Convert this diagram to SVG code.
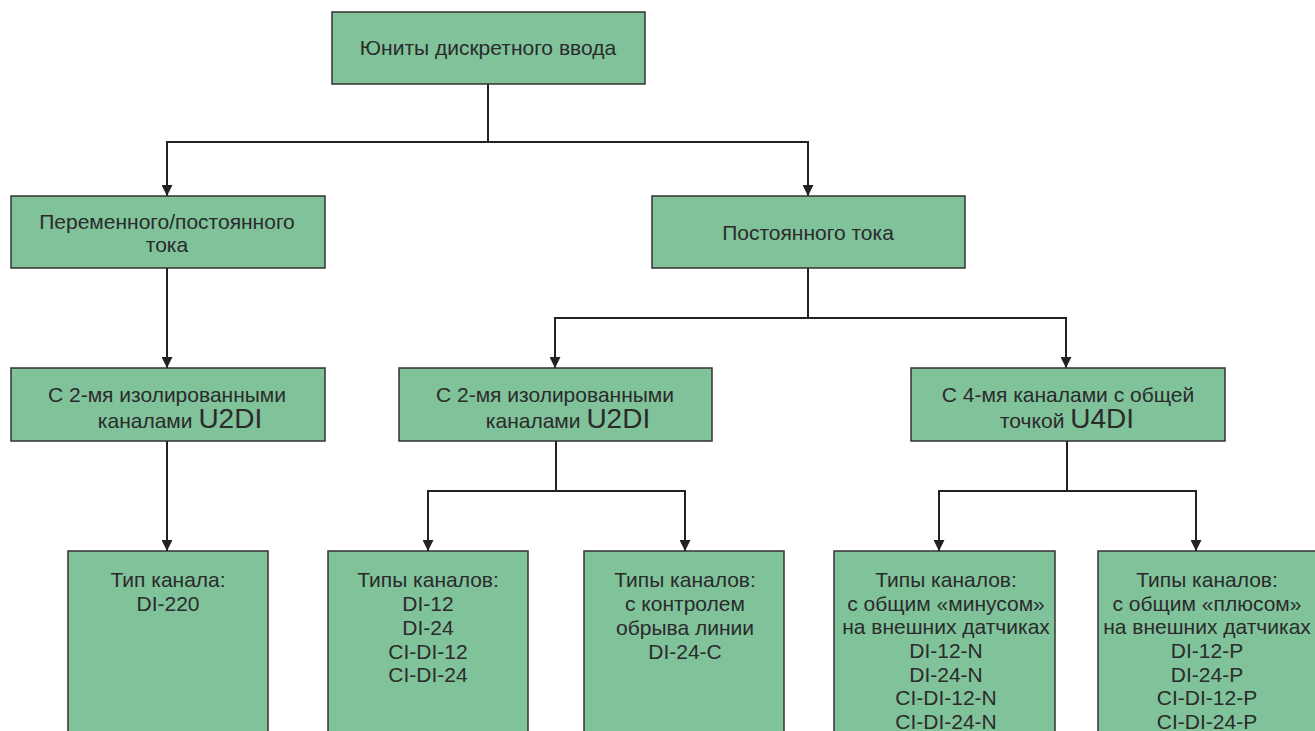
<svg xmlns="http://www.w3.org/2000/svg" width="1315" height="731" viewBox="0 0 1315 731">
<style>
.box{fill:#80c29a;stroke:#333;stroke-width:1.5}
text{font-family:"Liberation Sans",Arial,sans-serif;font-size:21px;fill:#2b2b2b;text-anchor:middle}
.big{font-size:28px}
.con{fill:none;stroke:#222;stroke-width:2}
</style>
<defs>
<marker id="arr" viewBox="0 0 10 10" refX="10" refY="5" markerWidth="11" markerHeight="11" markerUnits="userSpaceOnUse" orient="auto">
<path d="M0,0 L10,5 L0,10 z" fill="#222"/>
</marker>
</defs>
<rect width="1315" height="731" fill="#fff"/>
<g id="connectors">
<path class="con" d="M488,84 V142"/>
<path class="con" d="M488,142 H167 V196" marker-end="url(#arr)"/>
<path class="con" d="M488,142 H808 V196" marker-end="url(#arr)"/>
<path class="con" d="M167,268 V368" marker-end="url(#arr)"/>
<path class="con" d="M808,268 V318"/>
<path class="con" d="M808,318 H555 V368" marker-end="url(#arr)"/>
<path class="con" d="M808,318 H1066 V368" marker-end="url(#arr)"/>
<path class="con" d="M167,441 V551" marker-end="url(#arr)"/>
<path class="con" d="M556,441 V491"/>
<path class="con" d="M556,491 H428 V551" marker-end="url(#arr)"/>
<path class="con" d="M556,491 H685 V551" marker-end="url(#arr)"/>
<path class="con" d="M1067,441 V491"/>
<path class="con" d="M1067,491 H939 V551" marker-end="url(#arr)"/>
<path class="con" d="M1067,491 H1196 V551" marker-end="url(#arr)"/>
</g>
<g id="root">
<rect class="box" x="332" y="12" width="313" height="72"/>
<text x="488" y="55">Юниты дискретного ввода</text>
</g>
<g id="ac-dc">
<rect class="box" x="11" y="196" width="314" height="72"/>
<text x="167" y="229">Переменного/постоянного</text>
<text x="167" y="252">тока</text>
</g>
<g id="dc">
<rect class="box" x="652" y="196" width="313" height="72"/>
<text x="808" y="240">Постоянного тока</text>
</g>
<g id="u2di-left">
<rect class="box" x="11" y="368" width="314" height="73"/>
<text x="167" y="402">С 2-мя изолированными</text>
<text x="180" y="428">каналами <tspan class="big">U2DI</tspan></text>
</g>
<g id="u2di-mid">
<rect class="box" x="399" y="368" width="313" height="73"/>
<text x="555" y="402">С 2-мя изолированными</text>
<text x="568" y="428">каналами <tspan class="big">U2DI</tspan></text>
</g>
<g id="u4di">
<rect class="box" x="911" y="368" width="314" height="73"/>
<text x="1068" y="402">С 4-мя каналами с общей</text>
<text x="1067" y="428">точкой <tspan class="big">U4DI</tspan></text>
</g>
<g id="di220">
<rect class="box" x="68" y="551" width="200" height="190"/>
<text x="168" y="587">Тип канала:</text>
<text x="168" y="611">DI-220</text>
</g>
<g id="di-types">
<rect class="box" x="328" y="551" width="200" height="190"/>
<text x="428" y="587">Типы каналов:</text>
<text x="428" y="611">DI-12</text>
<text x="428" y="635">DI-24</text>
<text x="428" y="659">CI-DI-12</text>
<text x="428" y="682">CI-DI-24</text>
</g>
<g id="di-c">
<rect class="box" x="584" y="551" width="200" height="190"/>
<text x="685" y="587">Типы каналов:</text>
<text x="685" y="611">с контролем</text>
<text x="685" y="635">обрыва линии</text>
<text x="685" y="659">DI-24-C</text>
</g>
<g id="di-n">
<rect class="box" x="834" y="551" width="221" height="190"/>
<text x="946" y="587">Типы каналов:</text>
<text x="946" y="611">с общим «минусом»</text>
<text x="946" y="634">на внешних датчиках</text>
<text x="946" y="658">DI-12-N</text>
<text x="946" y="682">DI-24-N</text>
<text x="946" y="705">CI-DI-12-N</text>
<text x="946" y="729">CI-DI-24-N</text>
</g>
<g id="di-p">
<rect class="box" x="1098" y="551" width="230" height="190"/>
<text x="1207" y="587">Типы каналов:</text>
<text x="1207" y="611">с общим «плюсом»</text>
<text x="1207" y="634">на внешних датчиках</text>
<text x="1207" y="658">DI-12-P</text>
<text x="1207" y="682">DI-24-P</text>
<text x="1207" y="705">CI-DI-12-P</text>
<text x="1207" y="729">CI-DI-24-P</text>
</g>
</svg>
